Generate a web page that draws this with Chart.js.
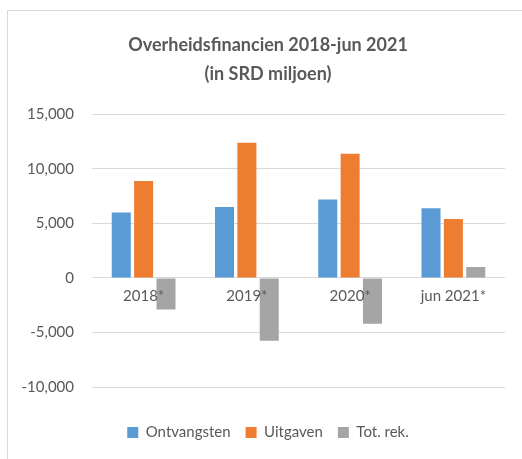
<!DOCTYPE html>
<html>
<head>
<meta charset="utf-8">
<script src="https://cdn.jsdelivr.net/npm/chart.js@4/dist/chart.umd.min.js"></script>
<style>
    html, body { margin: 0; padding: 0; background: #fff; overflow: hidden; }
    #frame {
        position: absolute; left: 7px; top: 10px; width: 600px; height: 600px;
        border-top: 1px solid #d9d9d9; border-left: 1px solid #d9d9d9;
    }
    /* the original chart box runs past the right edge of the picture */
    #wrap { position: absolute; left: 0; top: 0; width: 540px; height: 459px; }
</style>
</head>
<body>
<div id="frame"></div>
<div id="wrap"><canvas id="chart"></canvas></div>
<script>
    // Data (SRD miljoen)
    const categories = ['2018*', '2019*', '2020*', 'jun 2021*'];
    const ontvangsten = [6000, 6500, 7200, 6400];
    const uitgaven = [8900, 12400, 11400, 5400];
    const totRek = [-2900, -5750, -4200, 1000];
    const yMin = -10000, yMax = 15000, yStep = 5000;

    const textColor = '#595959';
    const gridColor = '#d9d9d9';
    const fontFamily = 'Lato, "Open Sans", sans-serif';

    // empty axes used only as spacers
    const spacer = (size) => ({
        display: true,
        grid: { display: false, drawTicks: false },
        border: { display: false },
        ticks: { display: false },
        afterFit: scale => {
            if (scale.isHorizontal()) scale.height = size; else scale.width = size;
        }
    });

    new Chart(document.getElementById('chart'), {
        type: 'bar',
        data: {
            labels: categories,
            datasets: [
                { label: 'Ontvangsten', data: ontvangsten, backgroundColor: '#5B9BD5' },
                { label: 'Uitgaven', data: uitgaven, backgroundColor: '#ED7D31' },
                { label: 'Tot. rek.', data: totRek, backgroundColor: '#A5A5A5' }
            ]
        },
        options: {
            responsive: true,
            maintainAspectRatio: false,
            animation: false,
            categoryPercentage: 0.65,
            barPercentage: 0.85,
            layout: { padding: { left: 8, right: 12, top: 0, bottom: 9 } },
            plugins: {
                title: {
                    display: true,
                    text: ['Overheidsfinancien 2018-jun 2021', '(in SRD miljoen)'],
                    color: textColor,
                    font: { family: fontFamily, size: 18, weight: 'bold', lineHeight: 1.65 },
                    padding: { top: 30, bottom: 25 }
                },
                legend: {
                    position: 'bottom',
                    labels: {
                        color: textColor,
                        font: { family: fontFamily, size: 15 },
                        boxWidth: 11,
                        boxHeight: 11,
                        padding: 15
                    }
                },
                tooltip: { enabled: false }
            },
            scales: {
                x: {
                    position: { y: 0 },
                    grid: { display: false, drawTicks: false },
                    border: { display: false },
                    ticks: {
                        z: 1,
                        color: textColor,
                        font: { family: fontFamily, size: 15 },
                        padding: 9,
                        maxRotation: 0
                    }
                },
                xB: Object.assign({ type: 'category', position: 'bottom' }, spacer(23)),
                y: {
                    min: yMin,
                    max: yMax,
                    grid: { color: gridColor, lineWidth: 1, drawTicks: false },
                    border: { display: false },
                    ticks: {
                        stepSize: yStep,
                        color: textColor,
                        font: { family: fontFamily, size: 15 },
                        padding: 18,
                        callback: v => v.toLocaleString('en-US')
                    },
                    afterFit: scale => { scale.width = 84; }
                },
                yR: Object.assign({ type: 'linear', position: 'right' }, spacer(23))
            }
        }
    });
</script>
</body>
</html>
